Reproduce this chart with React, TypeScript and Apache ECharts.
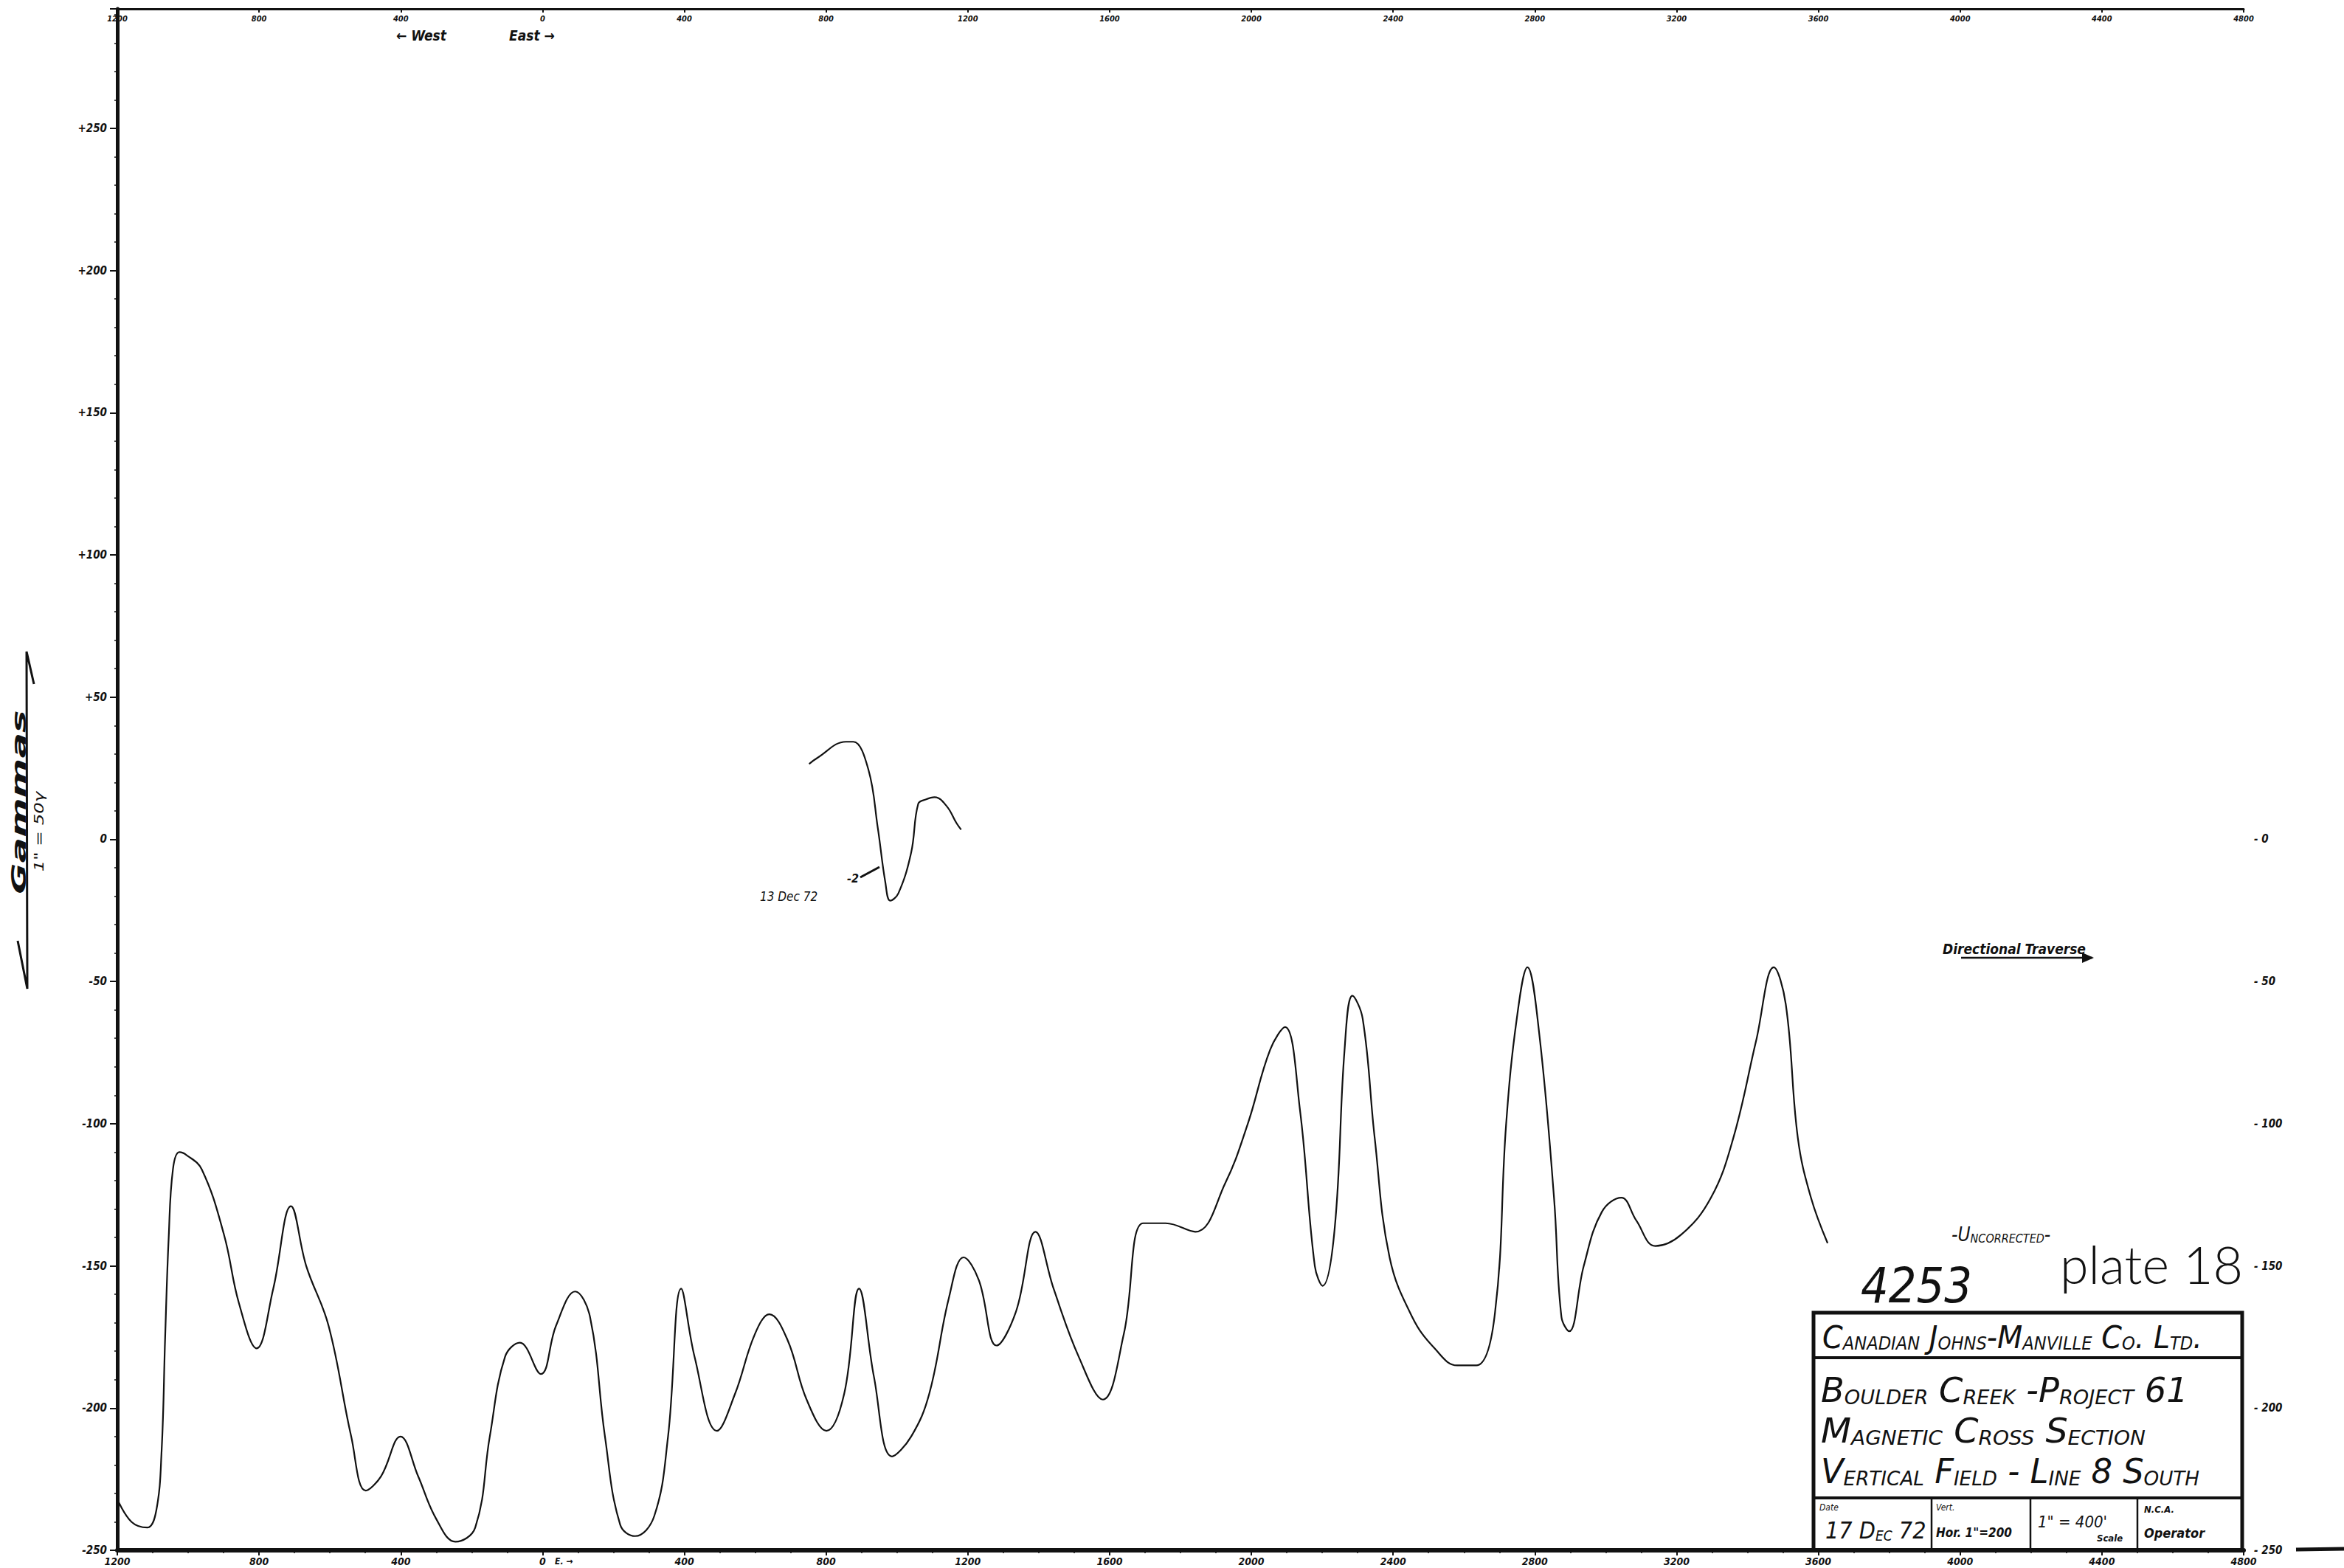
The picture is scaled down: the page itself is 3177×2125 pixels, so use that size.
import React, { useEffect, useRef } from "react";
import * as echarts from "echarts";

// Station along the traverse in feet (negative = west of station 0, positive = east)
const distanceFt = [
  -1200, -1160, -1115, -1090, -1075, -1065, -1055, -1043, -1025, -1005,
  -962, -899, -857, -807, -760, -710, -667, -604, -540, -499,
  -456, -401, -351, -300, -246, -190, -149, -106, -64, -5,
  38, 92, 134, 176, 219, 261, 315, 354, 391, 429,
  492, 543, 599, 640, 691, 745, 801, 851, 893, 935,
  986, 1040, 1091, 1147, 1188, 1231, 1281, 1336, 1391, 1442,
  1513, 1581, 1640, 1695, 1758, 1842, 1926, 1990, 2053, 2095,
  2137, 2179, 2201, 2235, 2263, 2285, 2314, 2348, 2390, 2454,
  2517, 2581, 2635, 2686, 2719, 2749, 2779, 2812, 2854, 2875,
  2897, 2938, 2989, 3044, 3086, 3140, 3213, 3297, 3360, 3424,
  3474, 3508, 3542, 3579, 3626,
];

// Vertical magnetic field, uncorrected, in gammas
const verticalFieldGammas = [
  -232, -240, -242, -236, -215, -175, -140, -116, -110, -111,
  -116, -139, -163, -179, -158, -129, -150, -171, -210, -229,
  -224, -210, -224, -239, -247, -242, -210, -182, -177, -188,
  -171, -159, -168, -210, -241, -245, -238, -210, -158, -182,
  -208, -195, -174, -167, -176, -197, -208, -195, -158, -189,
  -217, -210, -195, -161, -147, -155, -178, -166, -138, -158,
  -182, -197, -174, -135, -135, -138, -121, -100, -74, -66,
  -95, -150, -157, -137, -74, -55, -63, -105, -147, -168,
  -179, -185, -185, -168, -100, -63, -45, -68, -126, -168,
  -173, -150, -131, -126, -134, -143, -139, -126, -105, -71,
  -45, -58, -105, -126, -142,
];

// Repeat readings of 13 Dec 72 over the short stretch near 750-1180 E
const repeatDistanceFt = [752, 775, 856, 877, 919, 946, 967, 981, 1004, 1040, 1060, 1081, 1106, 1140, 1168, 1181];
const repeatGammas = [26.5, 28.6, 34.3, 34.3, 24.7, 3.9, -15, -21.6, -19, -4.7, 12.5, 14, 14.8, 11.7, 5.7, 3.4];

// Axis ranges (feet and gammas)
const stationMin = -1200;
const stationMax = 4800;
const stationStep = 400;
const fieldMin = -250;
const fieldMax = 292;
const fieldStep = 50;

const HAND = "'Liberation Sans Narrow', 'DejaVu Sans Condensed', 'DejaVu Sans', sans-serif";
const INK = "#111";

// Hand-lettered small caps: first letter of each word large, the rest small capitals
function smallCaps(s: string): string {
  return s.replace(/([A-Za-z])([A-Za-z]*)|([^A-Za-z]+)/g, (_m, a, b, c) =>
    a ? `{b|${a.toUpperCase()}}` + (b ? `{s|${b.toUpperCase()}}` : "") : `{b|${c}}`
  );
}

function capsText(text: string, x: number, y: number, big: number, small: number, scaleX = 1) {
  return {
    type: "text",
    x,
    y,
    scaleX,
    style: {
      text: smallCaps(text),
      textVerticalAlign: "middle",
      rich: {
        b: { fontSize: big, fontFamily: HAND, fontStyle: "italic", fill: INK, verticalAlign: "bottom" },
        s: { fontSize: small, fontFamily: HAND, fontStyle: "italic", fill: INK, verticalAlign: "bottom" },
      },
    },
  };
}

function plainText(text: string, x: number, y: number, size: number, style: any = {}) {
  return {
    type: "text",
    x,
    y,
    style: {
      text,
      fontSize: size,
      fontFamily: HAND,
      fontStyle: "italic",
      fill: INK,
      textVerticalAlign: "middle",
      ...style,
    },
  };
}

export default function App() {
  const ref = useRef<HTMLDivElement>(null);

  useEffect(() => {
    if (!ref.current) return;
    const chart = echarts.init(ref.current, null, { renderer: "svg" });

    const axisLabelStyle = {
      fontFamily: HAND,
      fontStyle: "italic" as const,
      fontWeight: "bold" as const,
      color: INK,
    };

    const box = { left: 2458, right: 3039, top: 1779, row1: 1840, row2: 2030, bottom: 2101 };
    const cells = [2618, 2752, 2897];

    const titleBlock: any[] = [
      {
        type: "rect",
        shape: { x: box.left, y: box.top, width: box.right - box.left, height: box.bottom - box.top },
        style: { fill: "#ffffff", stroke: INK, lineWidth: 5 },
      },
      { type: "line", shape: { x1: box.left, y1: box.row1, x2: box.right, y2: box.row1 }, style: { stroke: INK, lineWidth: 4 } },
      { type: "line", shape: { x1: box.left, y1: box.row2, x2: box.right, y2: box.row2 }, style: { stroke: INK, lineWidth: 4 } },
      ...cells.map((cx) => ({
        type: "line",
        shape: { x1: cx, y1: box.row2, x2: cx, y2: box.bottom },
        style: { stroke: INK, lineWidth: 2.5 },
      })),
      capsText("Canadian Johns-Manville Co. Ltd.", 2470, 1812, 42, 24, 1.05),
      capsText("Boulder Creek -Project 61", 2468, 1884, 46, 27, 1.12),
      capsText("Magnetic Cross Section", 2468, 1939, 46, 27, 1.15),
      capsText("Vertical Field - Line 8 South", 2468, 1994, 46, 27, 1.08),
      plainText("Date", 2466, 2043, 12),
      {
        type: "text",
        x: 2474,
        y: 2074,
        style: {
          text: "{b|17 D}{s|EC}{b| 72}",
          textVerticalAlign: "middle",
          rich: {
            b: { fontSize: 32, fontFamily: HAND, fontStyle: "italic", fill: INK, verticalAlign: "bottom" },
            s: { fontSize: 19, fontFamily: HAND, fontStyle: "italic", fill: INK, verticalAlign: "bottom" },
          },
        },
      },
      plainText("Vert.", 2624, 2043, 12),
      plainText('Hor. 1"=200', 2624, 2077, 17, { fontWeight: "bold" }),
      plainText('1" = 400\'', 2762, 2062, 22),
      plainText("Scale", 2842, 2084, 13, { fontWeight: "bold" }),
      plainText("N.C.A.", 2906, 2045, 13, { fontWeight: "bold" }),
      plainText("Operator", 2906, 2077, 18, { fontWeight: "bold" }),
    ];

    const option: any = {
      animation: false,
      backgroundColor: "#ffffff",
      grid: { left: 159, right: 136, top: 12, bottom: 24, containLabel: false },
      xAxis: [
        {
          type: "value",
          position: "bottom",
          min: stationMin,
          max: stationMax,
          interval: stationStep,
          axisLine: { onZero: false, lineStyle: { color: INK, width: 6 } },
          axisTick: { show: true, length: 7, lineStyle: { color: INK, width: 2 } },
          minorTick: { show: true, splitNumber: 4, length: 4, lineStyle: { color: INK, width: 1.5 } },
          splitLine: { show: false },
          axisLabel: { ...axisLabelStyle, fontSize: 14, margin: 8, formatter: (v: number) => String(Math.abs(v)) },
        },
        {
          type: "value",
          position: "top",
          min: stationMin,
          max: stationMax,
          interval: stationStep,
          axisLine: { onZero: false, lineStyle: { color: INK, width: 3 } },
          axisTick: { show: true, inside: true, length: 5, lineStyle: { color: INK, width: 2 } },
          splitLine: { show: false },
          axisLabel: { ...axisLabelStyle, fontSize: 11, inside: true, margin: 8, formatter: (v: number) => String(Math.abs(v)) },
        },
      ],
      yAxis: [
        {
          type: "value",
          position: "left",
          min: fieldMin,
          max: fieldMax,
          interval: fieldStep,
          axisLine: { show: true, onZero: false, lineStyle: { color: INK, width: 5 } },
          axisTick: { show: true, length: 10, lineStyle: { color: INK, width: 2 } },
          minorTick: { show: true, splitNumber: 5, length: 4, lineStyle: { color: INK, width: 1.5 } },
          splitLine: { show: false },
          axisLabel: {
            ...axisLabelStyle,
            fontSize: 15,
            margin: 14,
            showMaxLabel: false,
            formatter: (v: number) => (v > 0 ? "+" + v : String(v)),
          },
        },
        {
          type: "value",
          position: "right",
          min: fieldMin,
          max: fieldMax,
          interval: fieldStep,
          axisLine: { show: false },
          axisTick: { show: false },
          splitLine: { show: false },
          axisLabel: {
            ...axisLabelStyle,
            fontSize: 15,
            margin: 14,
            showMaxLabel: false,
            formatter: (v: number) => (v <= 0 ? "- " + Math.abs(v) : ""),
          },
        },
      ],
      series: [
        {
          name: "Vertical field",
          type: "line",
          xAxisIndex: 0,
          yAxisIndex: 0,
          data: distanceFt.map((d, i) => [d, verticalFieldGammas[i]]),
          smooth: 0.4,
          showSymbol: false,
          lineStyle: { color: INK, width: 2.2 },
          z: 3,
        },
        {
          name: "13 Dec 72",
          type: "line",
          xAxisIndex: 0,
          yAxisIndex: 0,
          data: repeatDistanceFt.map((d, i) => [d, repeatGammas[i]]),
          smooth: 0.4,
          showSymbol: false,
          lineStyle: { color: INK, width: 2.2 },
          z: 3,
        },
      ],
      graphic: [
        // vertical scale caption
        {
          type: "polyline",
          shape: { points: [[24, 1275], [37, 1340], [36, 883], [46, 927]] },
          style: { stroke: INK, lineWidth: 3, fill: null },
        },
        {
          type: "text",
          x: 26,
          y: 1087,
          rotation: Math.PI / 2,
          scaleX: 2.2,
          style: {
            text: "Gammas",
            fontSize: 26,
            fontFamily: HAND,
            fontStyle: "italic",
            fontWeight: "bold",
            fill: INK,
            textAlign: "center",
            textVerticalAlign: "middle",
          },
        },
        {
          type: "text",
          x: 53,
          y: 1127,
          rotation: Math.PI / 2,
          scaleX: 1.6,
          style: {
            text: '1" = 50γ',
            fontSize: 17,
            fontFamily: HAND,
            fontStyle: "italic",
            fill: INK,
            textAlign: "center",
            textVerticalAlign: "middle",
          },
        },
        // direction notes
        plainText("← West", 537, 48, 19, { fontWeight: "bold" }),
        plainText("East →", 690, 48, 19, { fontWeight: "bold" }),
        plainText("E. →", 752, 2116, 12, { fontWeight: "bold" }),
        // repeat reading notes
        plainText("13 Dec 72", 1030, 1215, 17),
        plainText("-2", 1148, 1190, 16, { fontWeight: "bold" }),
        {
          type: "line",
          shape: { x1: 1166, y1: 1189, x2: 1192, y2: 1175 },
          style: { stroke: INK, lineWidth: 3 },
        },
        // traverse direction
        plainText("Directional Traverse", 2633, 1286, 19, { fontWeight: "bold" }),
        {
          type: "polyline",
          shape: { points: [[2658, 1298], [2836, 1298]] },
          style: { stroke: INK, lineWidth: 2.5, fill: null },
        },
        {
          type: "polygon",
          shape: { points: [[2838, 1298], [2822, 1291], [2822, 1305]] },
          style: { fill: INK },
        },
        capsText("-Uncorrected-", 2645, 1673, 26, 16),
        // sheet numbers
        plainText("4253", 2522, 1742, 66),
        {
          type: "text",
          x: 2792,
          y: 1748,
          style: {
            text: "plate 18",
            fontSize: 70,
            fontFamily: "Lato, 'Open Sans', 'DejaVu Sans', sans-serif",
            fontWeight: 300,
            fill: INK,
            textVerticalAlign: "bottom",
          },
        },
        // title block
        ...titleBlock,
        // bottom line running on past the frame
        {
          type: "line",
          shape: { x1: 3112, y1: 2100, x2: 3177, y2: 2099 },
          style: { stroke: INK, lineWidth: 5 },
        },
      ],
    };

    chart.setOption(option);
    return () => chart.dispose();
  }, []);

  return (
    <div
      ref={ref}
      style={{ position: "fixed", left: 0, top: 0, width: "3177px", height: "2125px", background: "#fff" }}
    />
  );
}
